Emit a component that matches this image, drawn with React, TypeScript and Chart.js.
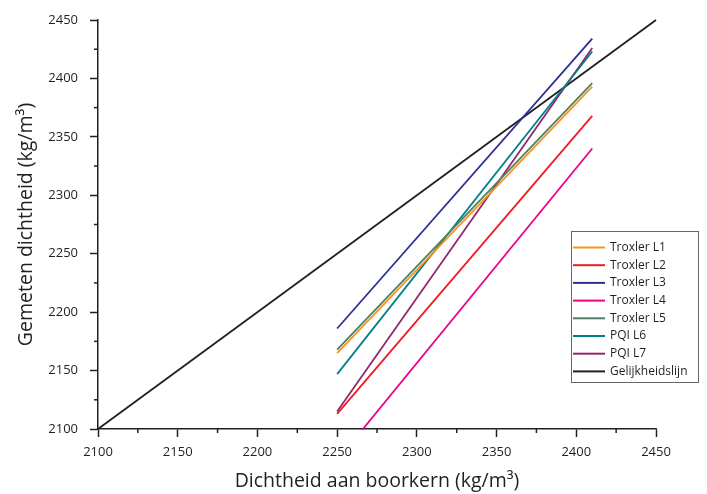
import React, { useEffect, useRef } from "react";
import { Chart, registerables } from "chart.js";

Chart.register(...registerables);

// x positions of the regression line endpoints (kg/m3)
const X_ENDPOINTS = [2250, 2410];

const SERIES_LABELS = [
  "Troxler L1",
  "Troxler L2",
  "Troxler L3",
  "Troxler L4",
  "Troxler L5",
  "PQI L6",
  "PQI L7",
];
const TROXLER_L1 = [2165, 2393];
const TROXLER_L2 = [2113, 2368];
const TROXLER_L3 = [2186, 2434];
const TROXLER_L4 = [2073, 2340];
const TROXLER_L5 = [2168, 2396];
const PQI_L6 = [2147, 2423];
const PQI_L7 = [2115, 2426];
const SERIES_VALUES = [TROXLER_L1, TROXLER_L2, TROXLER_L3, TROXLER_L4, TROXLER_L5, PQI_L6, PQI_L7];
const SERIES_COLORS = ["#f7941d", "#ed1c24", "#2e3192", "#ec008c", "#4f8064", "#007f8a", "#93276b"];

const IDENTITY_LABEL = "Gelijkheidslijn";
const IDENTITY_X = [2100, 2450];
const IDENTITY_Y = [2100, 2450];
const IDENTITY_COLOR = "#231f20";

const AXIS_MIN = 2100;
const AXIS_MAX = 2450;
const MAJOR_STEP = 50;
const MINOR_STEP = 25;

const X_TITLE = "Dichtheid aan boorkern (kg/m³)";
const Y_TITLE = "Gemeten dichtheid (kg/m³)";

const FONT = "'Open Sans', 'Noto Sans', sans-serif";
const DARK = "#231f20";

const minorTicksPlugin = {
  id: "minorTicks",
  afterDraw(chart: any) {
    const { ctx, chartArea, scales } = chart;
    ctx.save();
    ctx.strokeStyle = DARK;
    ctx.lineWidth = 1.5;
    for (let v = AXIS_MIN + MINOR_STEP; v < AXIS_MAX; v += MAJOR_STEP) {
      const px = scales.x.getPixelForValue(v);
      ctx.beginPath();
      ctx.moveTo(px, chartArea.bottom);
      ctx.lineTo(px, chartArea.bottom + 4);
      ctx.stroke();
      const py = scales.y.getPixelForValue(v);
      ctx.beginPath();
      ctx.moveTo(chartArea.left, py);
      ctx.lineTo(chartArea.left - 4, py);
      ctx.stroke();
    }
    ctx.restore();
  },
};

const boxLegendPlugin = {
  id: "boxLegend",
  afterDraw(chart: any) {
    const { ctx } = chart;
    const ds = chart.data.datasets;
    const left = 571.5;
    const top = 231.5;
    const right = 698.5;
    const bottom = 382.5;
    ctx.save();
    ctx.fillStyle = "#ffffff";
    ctx.fillRect(left, top, right - left, bottom - top);
    ctx.strokeStyle = "#666666";
    ctx.lineWidth = 1;
    ctx.strokeRect(left, top, right - left, bottom - top);
    ctx.font = `12px ${FONT}`;
    ctx.textBaseline = "middle";
    ctx.textAlign = "left";
    ds.forEach((d: any, i: number) => {
      const y = 247.5 + i * 17.7;
      ctx.strokeStyle = d.borderColor;
      ctx.lineWidth = 2;
      ctx.beginPath();
      ctx.moveTo(573, y);
      ctx.lineTo(605, y);
      ctx.stroke();
      ctx.fillStyle = DARK;
      ctx.fillText(d.label, 610, y);
    });
    ctx.restore();
  },
};

export default function App() {
  const ref = useRef<HTMLCanvasElement | null>(null);

  useEffect(() => {
    if (!ref.current) return;
    const datasets: any[] = SERIES_LABELS.map((label, i) => ({
      label,
      data: X_ENDPOINTS.map((x, j) => ({ x, y: SERIES_VALUES[i][j] })),
      borderColor: SERIES_COLORS[i],
      backgroundColor: SERIES_COLORS[i],
      borderWidth: 1.8,
      pointRadius: 0,
      showLine: true,
      clip: 1,
    }));
    datasets.push({
      label: IDENTITY_LABEL,
      data: IDENTITY_X.map((x, j) => ({ x, y: IDENTITY_Y[j] })),
      borderColor: IDENTITY_COLOR,
      backgroundColor: IDENTITY_COLOR,
      borderWidth: 1.8,
      pointRadius: 0,
      showLine: true,
      clip: 1,
    });

    const tickColor = (c: any) =>
      c.tick && c.tick.value % MAJOR_STEP === 0 ? DARK : "rgba(0,0,0,0)";

    const chart = new Chart(ref.current, {
      type: "scatter",
      data: { datasets },
      options: {
        animation: false,
        responsive: false,
        maintainAspectRatio: false,
        layout: { padding: { top: 20, right: 51, left: 0, bottom: 0 } },
        plugins: { legend: { display: false }, tooltip: { enabled: false } },
        scales: {
          x: {
            type: "linear",
            min: AXIS_MIN,
            max: AXIS_MAX,
            afterFit: (s: any) => {
              s.height = 65;
            },
            border: { display: true, color: DARK, width: 1.5 },
            grid: {
              drawOnChartArea: false,
              drawTicks: true,
              tickLength: 8,
              tickWidth: 1.5,
              tickColor,
            },
            ticks: {
              stepSize: MINOR_STEP,
              autoSkip: false,
              maxRotation: 0,
              padding: 7,
              color: DARK,
              font: { family: FONT, size: 13 },
              callback: (v: any) => (Number(v) % MAJOR_STEP === 0 ? String(v) : ""),
            },
            title: {
              display: true,
              text: X_TITLE,
              color: DARK,
              font: { family: FONT, size: 19.5 },
              padding: { top: 0, bottom: 1 },
            },
          },
          y: {
            type: "linear",
            min: AXIS_MIN,
            max: AXIS_MAX,
            afterFit: (s: any) => {
              s.width = 98;
            },
            border: { display: true, color: DARK, width: 1.5 },
            grid: {
              drawOnChartArea: false,
              drawTicks: true,
              tickLength: 8,
              tickWidth: 1.5,
              tickColor,
            },
            ticks: {
              stepSize: MINOR_STEP,
              autoSkip: false,
              padding: 12,
              color: DARK,
              font: { family: FONT, size: 13 },
              callback: (v: any) => (Number(v) % MAJOR_STEP === 0 ? String(v) : ""),
            },
            title: {
              display: true,
              text: Y_TITLE,
              color: DARK,
              font: { family: FONT, size: 19.5 },
              padding: { top: 15, bottom: 0 },
            },
          },
        },
      },
      plugins: [minorTicksPlugin, boxLegendPlugin],
    });
    return () => chart.destroy();
  }, []);

  return (
    <div style={{ position: "absolute", left: 0, top: 0, width: 707, height: 494, background: "#fff" }}>
      <canvas ref={ref} width={707} height={494} />
    </div>
  );
}
